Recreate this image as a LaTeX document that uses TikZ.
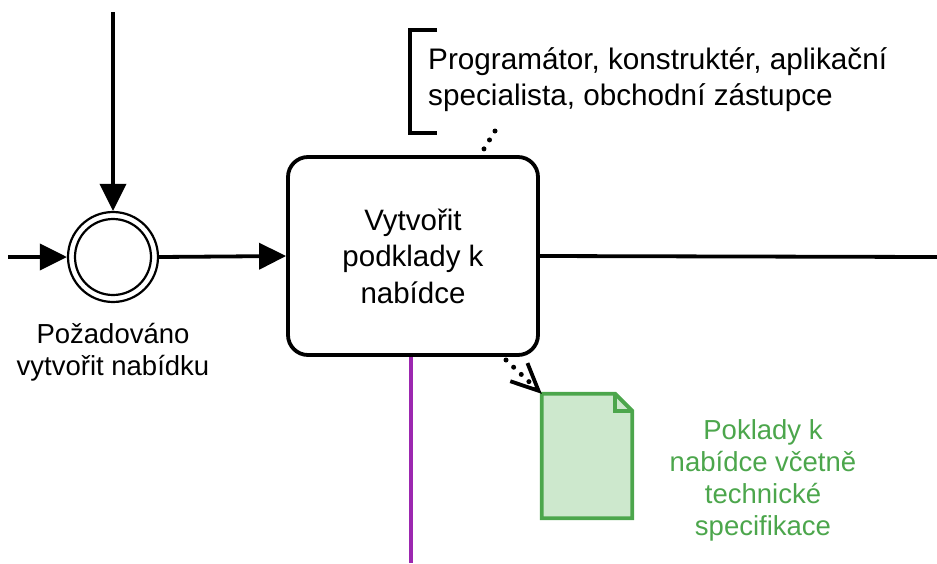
\documentclass[tikz,border=0pt]{standalone}
\usepackage{fontspec}
\setmainfont{Liberation Sans}
\usetikzlibrary{arrows.meta}
\definecolor{docgreen}{RGB}{76,166,76}
\definecolor{docfill}{RGB}{205,232,205}
\definecolor{lanepurple}{RGB}{156,39,176}
\tikzset{
  flow/.style={line width=3.8pt,-{Triangle[length=27pt,width=26pt]}},
  plainflow/.style={line width=3.8pt},
  dotline/.style={line width=5pt,line cap=round,dash pattern=on 0pt off 10.5pt},
  taskbox/.style={draw,line width=3.8pt,rounded corners=20pt,minimum width=250pt,minimum height=198pt,align=center,font=\fontsize{29.5}{36.5}\selectfont},
  evlabel/.style={align=center,font=\fontsize{27.5}{32}\selectfont},
}
\begin{document}
\begin{tikzpicture}[x=1pt,y=-1pt]
\useasboundingbox (0,0) rectangle (937,563);
% event
\node[circle,draw,line width=2.2pt,minimum size=90pt,inner sep=0pt] (ev) at (113,257) {};
\node[circle,draw,line width=2.2pt,minimum size=76pt,inner sep=0pt] (evin) at (113,257) {};
\node[evlabel] (evl) at (113,352) {Požadováno\\vytvořit nabídku};
% task
\node[taskbox] (task) at (413,256) {Vytvořit\\podklady k\\nabídce};
% free ends
\coordinate (inL) at (8,257);
\coordinate (inT) at (113,12);
\coordinate (outR) at (937,257);
\coordinate (purpEnd) at (411,563);
\coordinate (purpStart) at (411,357);
% flows
\draw[flow] (inL) -- (ev.west);
\draw[flow] (inT) -- (ev.north);
\draw[flow] (ev.east) -- (task.west);
\draw[plainflow] (task.east) -- (outR);
\draw[line width=3.8pt,lanepurple] (purpStart) -- (purpEnd);
% annotation
\node[anchor=west,inner sep=0pt,align=left,font=\fontsize{29.7}{36}\selectfont] (ann) at (428,80) {Programátor, konstruktér, aplikační\\specialista, obchodní zástupce};
\draw[line width=3.8pt] (437,30) -- (410,30) -- (410,133) -- (437,133);
\coordinate (annEnd) at (495,131);
\coordinate (taskTop) at (479,157);
\draw[dotline] (annEnd) -- (taskTop);
% document
\node[minimum width=90pt,minimum height=124pt,inner sep=0pt] (doc) at (587,456) {};
\draw[docgreen,fill=docfill,line width=3.8pt,line join=miter]
  (doc.north west) -- ([xshift=-17pt]doc.north east) -- ([yshift=-17pt]doc.north east) -- (doc.south east) -- (doc.south west) -- cycle;
\draw[docgreen,line width=3.8pt] ([xshift=-17pt]doc.north east) -- ([xshift=-17pt,yshift=-17pt]doc.north east) -- ([yshift=-17pt]doc.north east);
\node[evlabel,text=docgreen] (docl) at (763,480) {Poklady k\\nabídce včetně\\technické\\specifikace};
% data association
\coordinate (taskBR) at (506,360);
\draw[dotline,-{Straight Barb[length=27pt,width=25pt,line width=3.8pt]}] (taskBR) -- (doc.north west);
\end{tikzpicture}
\end{document}
